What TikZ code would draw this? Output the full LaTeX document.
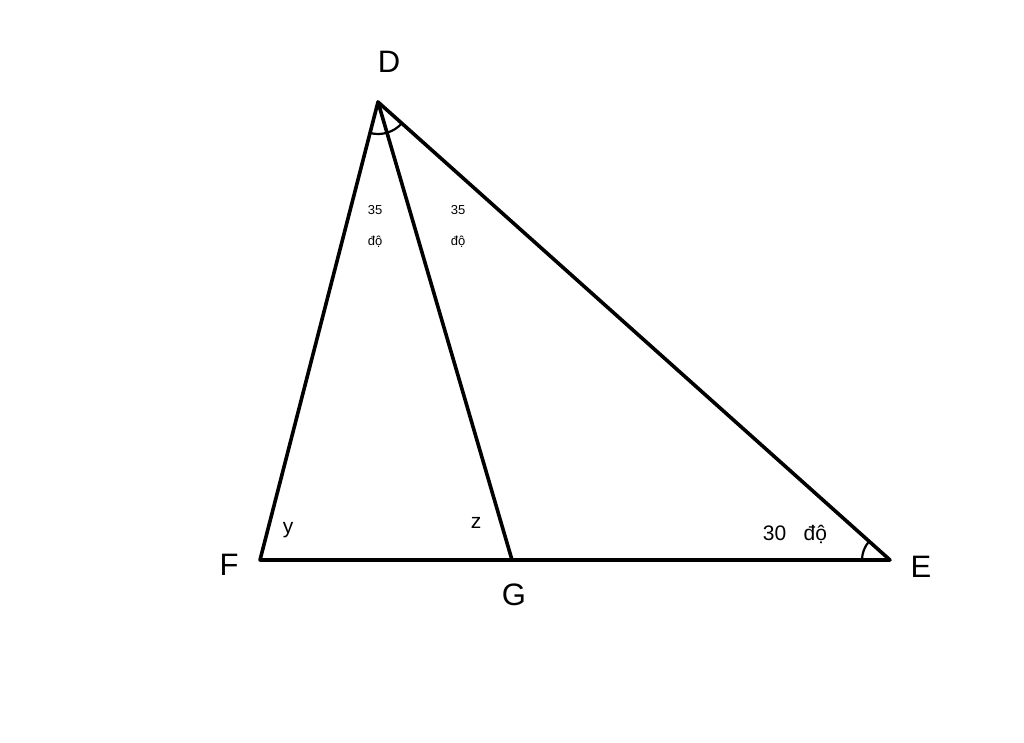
\documentclass[tikz,border=0pt]{standalone}
\usepackage{fontspec}
\setmainfont{Liberation Sans}
\begin{document}
\begin{tikzpicture}[x=1pt,y=-1pt,
  edge/.style={line width=3.6pt,line join=round,line cap=round},
  arcline/.style={line width=2.2pt},
  vlabel/.style={font=\fontsize{31}{33}\selectfont},
  small/.style={font=\fontsize{13}{15}\selectfont},
  mid/.style={font=\fontsize{21}{23}\selectfont}]
\useasboundingbox (0,0) rectangle (1024,742);
\coordinate (D) at (378,102);
\coordinate (F) at (260,560);
\coordinate (G) at (512,560);
\coordinate (E) at (890,560);
\draw[edge] (D) -- (F) -- (E) -- cycle;
\draw[edge] (D) -- (G);
% angle arcs
\draw[arcline] (D) ++(104.4:32) arc[start angle=104.4,end angle=41.8,radius=32];
\draw[arcline] (E) ++(180:28) arc[start angle=180,end angle=221.8,radius=28];
% vertex labels
\node[vlabel] (lD) at (389,62) {D};
\node[vlabel] (lF) at (229,565) {F};
\node[vlabel] (lG) at (514,595) {G};
\node[vlabel] (lE) at (921,567) {E};
% angle labels
\node[small] (a1t) at (375,210) {35};
\node[small] (a1b) at (375,242) {độ};
\node[small] (a2t) at (458,210) {35};
\node[small] (a2b) at (458,242) {độ};
\node[mid] (ly) at (288,530) {y};
\node[mid] (lz) at (476,523) {z};
\node[mid] (a3) at (795,534) {30\ \ \ độ};
\end{tikzpicture}
\end{document}
